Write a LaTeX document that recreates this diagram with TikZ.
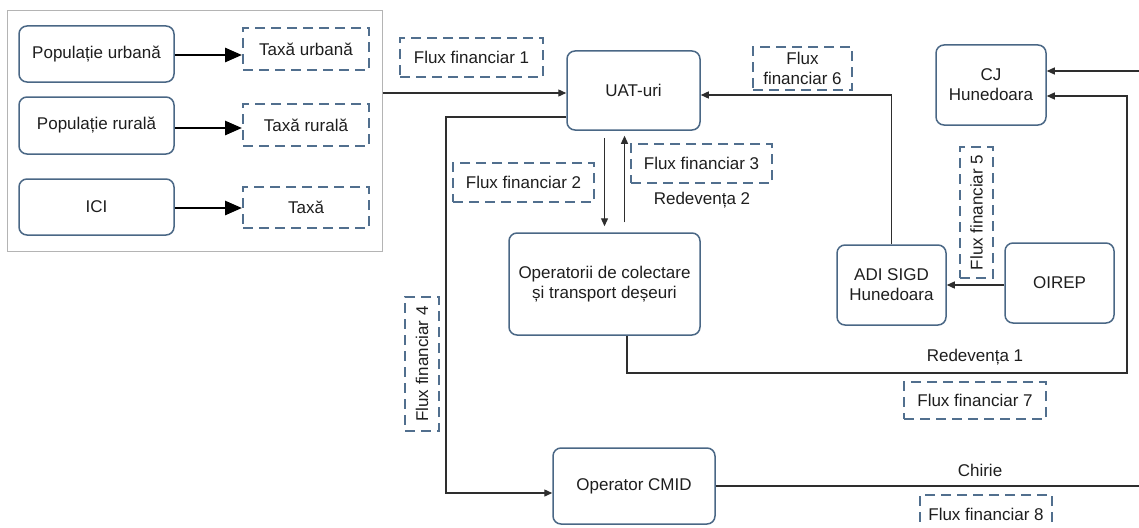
\documentclass[tikz,border=0pt]{standalone}
\usepackage{fontspec}
\setmainfont{Liberation Sans}
\usetikzlibrary{arrows.meta}

\definecolor{boxline}{HTML}{4A6785}
\definecolor{dashline}{HTML}{516F8E}
\definecolor{frameline}{HTML}{B4B4B4}
\definecolor{wire}{HTML}{2E2E2E}
\definecolor{ink}{HTML}{1E1E1E}

\begin{document}
\begin{tikzpicture}[x=1pt,y=-1pt,font=\fontsize{17}{20}\selectfont,text=ink,
	entitate/.style={draw=boxline,line width=1.5pt,rounded corners=8pt,align=center,inner sep=0pt},
	flux/.style={draw=dashline,line width=2pt,dash pattern=on 10pt off 6pt,align=center,inner sep=0pt},
	conn/.style={draw=wire,line width=1.3pt,-{Triangle[length=8pt,width=7pt]}},
	linie/.style={draw=wire,line width=1.3pt},
	gros/.style={draw=black,line width=2.8pt,-{Triangle[length=17pt,width=14pt]}}]
	\useasboundingbox (0,0) rectangle (1139,527);
	
	% plătitori
	\node[draw=frameline,line width=1pt,minimum width=375pt,minimum height=240pt,inner sep=0pt] (plata) at (194.5,131) {};
	\node[entitate,minimum width=155pt,minimum height=56pt] (popu) at (96.5,54) {Populație urbană};
	\node[entitate,minimum width=155pt,minimum height=57pt] (popr) at (96.5,125.5) {Populație rurală};
	\node[entitate,minimum width=155pt,minimum height=56pt] (ici) at (96.5,207) {ICI};
	\node[flux,minimum width=126pt,minimum height=42pt] (taxu) at (306,49) {Taxă urbană};
	\node[flux,minimum width=126pt,minimum height=42pt] (taxr) at (306,125) {Taxă rurală};
	\node[flux,minimum width=126pt,minimum height=41pt] (tax) at (306,207.5) {Taxă};
	
	% actori
	\node[entitate,minimum width=133pt,minimum height=79pt] (uat) at (633.5,90.5) {UAT-uri};
	\node[entitate,minimum width=110pt,minimum height=80pt] (cj) at (991,85) {CJ\\Hunedoara};
	\node[entitate,minimum width=191pt,minimum height=102pt] (opcol) at (604.5,284) {Operatorii de colectare\\și transport deșeuri};
	\node[entitate,minimum width=109pt,minimum height=80pt] (adi) at (891.5,285) {ADI SIGD\\Hunedoara};
	\node[entitate,minimum width=109pt,minimum height=80pt] (oirep) at (1059.5,283) {OIREP};
	\node[entitate,minimum width=162pt,minimum height=76pt] (cmid) at (634,486) {Operator CMID};
	
	% fluxuri
	\node[flux,minimum width=143pt,minimum height=39pt] (flux1) at (471.5,57.5) {Flux financiar 1};
	\node[flux,minimum width=141pt,minimum height=39pt] (flux2) at (523.5,182.5) {Flux financiar 2};
	\node[flux,minimum width=141pt,minimum height=39pt] (flux3) at (701.5,163.5) {Flux financiar 3};
	\node[flux,minimum width=34pt,minimum height=134pt] (flux4) at (422,364) {\rotatebox{90}{Flux financiar 4}};
	\node[flux,minimum width=33pt,minimum height=131pt] (flux5) at (976.5,212.5) {\rotatebox{90}{Flux financiar 5}};
	\node[flux,minimum width=99pt,minimum height=43pt] (flux6) at (802.5,68.5) {Flux\\financiar 6};
	\node[flux,minimum width=142pt,minimum height=37pt] (flux7) at (975,400.5) {Flux financiar 7};
	\node[flux,minimum width=132pt,minimum height=39pt] (flux8) at (986,514.5) {Flux financiar 8};
	\node (redev2) at (702,200) {Redevența 2};
	\node (redev1) at (975,357) {Redevența 1};
	\node (chirie) at (980,470) {Chirie};
	
	\coordinate (k4) at (446,117);
	\coordinate (r1) at (1127,373);
	\coordinate (edgeT) at (1139,71);
	\coordinate (edgeB) at (1139,486);
	
	\draw[gros] (popu.east |- 0,55) -- (taxu.west |- 0,55);
	\draw[gros] (popr.east |- 0,128) -- (taxr.west |- 0,128);
	\draw[gros] (ici.east |- 0,208) -- (tax.west |- 0,208);
	
	\draw[conn] (plata.east |- 0,93) -- (uat.west |- 0,93);
	\draw[conn] ([yshift=-26.5]uat.west) -- (k4) |- ([yshift=-7]cmid.west);
	\draw[conn,shorten <=7pt,shorten >=6pt] (uat.south -| opcol.north) -- (opcol.north);
	\draw[conn,shorten <=10pt,shorten >=5pt] ([xshift=20]opcol.north) -- ([xshift=20]opcol.north |- uat.south);
	\draw[conn] (adi.north) |- ([yshift=-4.5]uat.east);
	\draw[conn] (oirep.west |- adi.east) -- (adi.east);
	\draw[conn] ([xshift=22.5]opcol.south) |- (r1) |- ([yshift=-11]cj.east);
	\draw[conn] (edgeT) -- (edgeT -| cj.east);
	\draw[linie] (cmid.east) -- (cmid.east -| edgeB);
\end{tikzpicture}
\end{document}
